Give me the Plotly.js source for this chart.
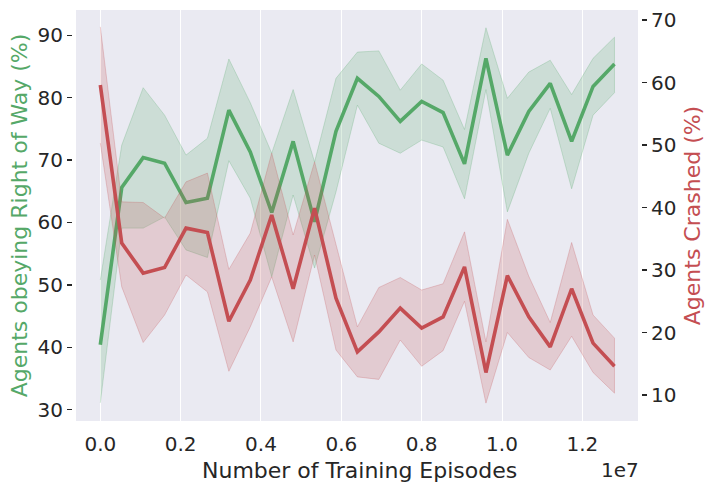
<!DOCTYPE html>
<html>
<head>
<meta charset="utf-8">
<script src="https://cdn.plot.ly/plotly-3.0.1.min.js"></script>
<style>html,body{margin:0;padding:0;background:#fff;}#chart{width:715px;height:491px;}</style>
</head>
<body>
<div id="chart"></div>
<script>
const episodes = [0, 533333, 1066667, 1600000, 2133333, 2666667, 3200000, 3733333, 4266667, 4800000, 5333333, 5866667, 6400000, 6933333, 7466667, 8000000, 8533333, 9066667, 9600000, 10133333, 10666667, 11200000, 11733333, 12266667, 12800000];

const rightOfWay   = [40.4, 65.6, 70.4, 69.5, 63.2, 63.9, 78.0, 71.3, 61.6, 73.0, 60.1, 74.6, 83.1, 80.2, 76.2, 79.4, 77.6, 69.4, 86.3, 70.8, 77.8, 82.3, 73.0, 81.8, 85.4];
const rightOfWayHi = [50.8, 72.4, 81.6, 77.2, 70.8, 73.5, 86.2, 79.2, 71.1, 81.3, 69.7, 83.1, 87.3, 87.5, 81.2, 85.4, 82.8, 74.9, 91.2, 79.9, 84.1, 86.0, 80.5, 86.3, 89.7];
const rightOfWayLo = [31.1, 59.1, 59.1, 60.9, 55.6, 54.4, 69.9, 63.9, 51.3, 64.4, 52.7, 64.9, 78.8, 72.7, 71.1, 73.2, 72.1, 63.8, 81.3, 61.7, 71.1, 78.3, 65.4, 77.2, 80.8];

const crashed   = [59.6, 34.3, 29.5, 30.4, 36.7, 36.0, 21.8, 28.4, 38.8, 27.0, 39.9, 25.5, 16.9, 20.1, 23.9, 20.7, 22.5, 30.5, 13.6, 29.1, 22.5, 17.7, 27.0, 18.3, 14.6];
const crashedHi = [68.9, 40.9, 40.8, 38.3, 44.1, 45.5, 30.1, 35.9, 48.7, 35.6, 47.3, 34.0, 20.9, 27.2, 28.8, 26.8, 27.8, 36.1, 18.5, 38.1, 29.0, 21.6, 34.4, 22.8, 19.1];
const crashedLo = [50.3, 27.3, 18.4, 22.8, 29.2, 26.5, 13.8, 20.9, 28.9, 18.5, 32.4, 17.2, 12.9, 12.5, 18.8, 14.6, 17.1, 25.0, 8.7, 20.0, 16.0, 14.0, 19.4, 13.6, 10.3];

const xTickVals = [0, 2000000, 4000000, 6000000, 8000000, 10000000, 12000000];
const xTickText = ['0.0', '0.2', '0.4', '0.6', '0.8', '1.0', '1.2'];
const leftTicks = [30, 40, 50, 60, 70, 80, 90];
const rightTicks = [10, 20, 30, 40, 50, 60, 70];

const GREEN = '#55a868', RED = '#c44e52';
const FONT = 'DejaVu Sans, sans-serif';
const TXT = '#262626';

function band(lo, hi, fillc, linec, yaxis) {
  return {
    x: episodes.concat(episodes.slice().reverse()),
    y: hi.concat(lo.slice().reverse()),
    type: 'scatter', mode: 'lines', fill: 'toself',
    fillcolor: fillc, line: {color: linec, width: 1},
    yaxis: yaxis, hoverinfo: 'skip', showlegend: false
  };
}

const data = [
  band(rightOfWayLo, rightOfWayHi, 'rgba(85,168,104,0.2)', 'rgba(85,168,104,0.25)', 'y'),
  {x: episodes, y: rightOfWay, type: 'scatter', mode: 'lines', line: {color: GREEN, width: 3.6}, yaxis: 'y', showlegend: false},
  band(crashedLo, crashedHi, 'rgba(196,78,82,0.2)', 'rgba(196,78,82,0.25)', 'y2'),
  {x: episodes, y: crashed, type: 'scatter', mode: 'lines', line: {color: RED, width: 3.6}, yaxis: 'y2', showlegend: false}
];

const layout = {
  width: 715, height: 491,
  margin: {l: 73, r: 74, t: 10, b: 70},
  paper_bgcolor: '#ffffff', plot_bgcolor: '#ffffff',
  font: {family: FONT, color: TXT, size: 20},
  showlegend: false,
  xaxis: {
    range: [-680000, 13460000],
    tickvals: xTickVals, ticktext: xTickText,
    showgrid: true, gridcolor: '#ffffff', gridwidth: 1,
    zeroline: false, showline: false,
    ticks: 'outside', ticklen: 5, tickcolor: 'rgba(0,0,0,0)',
    tickfont: {family: FONT, size: 20, color: TXT}
  },
  yaxis: {
    range: [28.19, 94.05],
    tickvals: leftTicks,
    showgrid: false, zeroline: false, showline: false,
    ticks: 'outside', ticklen: 5, tickwidth: 1.3, tickcolor: TXT,
    tickfont: {family: FONT, size: 20, color: TXT},
    title: {text: 'Agents obeying Right of Way (%)', font: {family: FONT, size: 22, color: GREEN}, standoff: 3}
  },
  yaxis2: {
    range: [5.84, 71.6],
    overlaying: 'y', side: 'right',
    tickvals: rightTicks,
    showgrid: false, zeroline: false, showline: false,
    ticks: 'outside', ticklen: 5, tickwidth: 1.3, tickcolor: TXT,
    tickfont: {family: FONT, size: 20, color: TXT},
    title: {text: 'Agents Crashed (%)', font: {family: FONT, size: 22, color: RED}, standoff: 9}
  },
  shapes: [{
    type: 'rect', xref: 'paper', yref: 'paper',
    x0: 3/568, x1: 565/568, y0: 0, y1: 1,
    fillcolor: '#eaeaf2', line: {width: 0}, layer: 'below'
  }],
  annotations: [{
    text: 'Number of Training Episodes', xref: 'paper', yref: 'paper', x: 0.505, y: -0.12,
    xanchor: 'center', yanchor: 'middle', showarrow: false,
    font: {family: FONT, size: 22, color: TXT}
  }, {
    text: '1e7', xref: 'paper', yref: 'paper', x: 1.0, y: -0.12,
    xanchor: 'right', yanchor: 'middle', showarrow: false,
    font: {family: FONT, size: 20, color: TXT}
  }]
};

Plotly.newPlot('chart', data, layout, {displayModeBar: false, staticPlot: true});
</script>
</body>
</html>
